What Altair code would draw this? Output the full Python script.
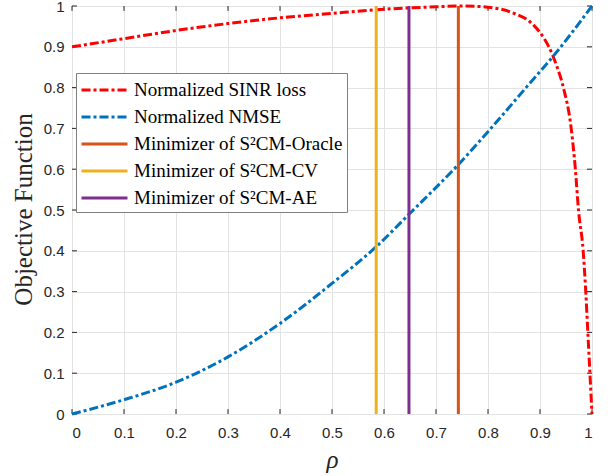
import altair as alt
import pandas as pd

# ---- data ----
rho_sinr = [0.0, 0.1, 0.2, 0.3, 0.4, 0.5, 0.6, 0.7, 0.75, 0.8, 0.85, 0.88, 0.9,
            0.917, 0.933, 0.945, 0.96, 0.968, 0.974, 0.983, 0.988, 0.992, 0.996, 1.0]
sinr_loss = [0.9, 0.92, 0.94, 0.957, 0.971, 0.982, 0.992, 0.998, 1.0, 0.997, 0.982,
             0.962, 0.935, 0.9, 0.85, 0.8, 0.7, 0.6, 0.5, 0.4, 0.3, 0.2, 0.1, 0.0]

rho_nmse = [0.0, 0.1, 0.2, 0.3, 0.4, 0.5, 0.585, 0.65, 0.742, 0.8, 0.88, 0.93, 1.0]
nmse = [0.0, 0.035, 0.078, 0.14, 0.222, 0.32, 0.41, 0.492, 0.61, 0.692, 0.81, 0.884, 1.0]

minimizer_names = ["Minimizer of S²CM-Oracle", "Minimizer of S²CM-CV", "Minimizer of S²CM-AE"]
minimizer_rho = [0.743, 0.585, 0.648]

curve_names = ["Normalized SINR loss", "Normalized NMSE"]
x_ticks = [0, 0.1, 0.2, 0.3, 0.4, 0.5, 0.6, 0.7, 0.8, 0.9, 1]
y_ticks = [0, 0.1, 0.2, 0.3, 0.4, 0.5, 0.6, 0.7, 0.8, 0.9, 1]

# ---- tables ----
curves = pd.concat([
    pd.DataFrame({"series": curve_names[0], "rho": rho_sinr, "value": sinr_loss}),
    pd.DataFrame({"series": curve_names[1], "rho": rho_nmse, "value": nmse}),
])
rules = pd.DataFrame({"series": minimizer_names, "rho": minimizer_rho})
xt = pd.DataFrame({"t": x_ticks})
yt = pd.DataFrame({"t": y_ticks})

names = curve_names + minimizer_names
colors = ["#FF0000", "#0072BD", "#D95319", "#EDB120", "#7E2F8E"]
dashes = [[9, 3, 3, 3], [9, 3, 3, 3], [1, 0], [1, 0], [1, 0]]

AX = "#262626"

xscale = alt.Scale(domain=[0, 1], nice=False, zero=False)
yscale = alt.Scale(domain=[0, 1], nice=False, zero=False)

xaxis = alt.Axis(values=x_ticks, format=".1~f", title="ρ", grid=True, ticks=False,
                 domain=False, labelPadding=11, titleFont="Liberation Serif",
                 titleFontSize=25, titleFontStyle="italic", titleFontWeight="normal",
                 titleY=53, titleBaseline="alphabetic", titleColor=AX)
yaxis = alt.Axis(values=y_ticks, format=".1~f", title="Objective Function", grid=True,
                 ticks=False, domain=False, labelPadding=8, titleFont="Liberation Serif",
                 titleFontSize=25, titleFontWeight="normal", titleX=-41, titleY=203,
                 titleAngle=-90, titleBaseline="alphabetic", titleAlign="center",
                 titleColor=AX)

legend = alt.Legend(title=None, orient="none", legendX=4, legendY=67)

color = alt.Color("series:N", scale=alt.Scale(domain=names, range=colors), legend=legend)
dash = alt.StrokeDash("series:N", scale=alt.Scale(domain=names, range=dashes), legend=legend)

lines = alt.Chart(curves).mark_line(strokeWidth=3, interpolate="monotone").encode(
    x=alt.X("rho:Q", scale=xscale, axis=xaxis),
    y=alt.Y("value:Q", scale=yscale, axis=yaxis),
    color=color, strokeDash=dash, order=alt.Order("rho:Q"),
)

vlines = alt.Chart(rules).mark_rule(strokeWidth=3).encode(
    x=alt.X("rho:Q", scale=xscale), color=color, strokeDash=dash,
)

tick_style = dict(color=AX, strokeWidth=1)
bottom_ticks = alt.Chart(xt).mark_rule(**tick_style).encode(
    x=alt.X("t:Q", scale=xscale), y=alt.datum(0), y2=alt.datum(0.012))
top_ticks = alt.Chart(xt).mark_rule(**tick_style).encode(
    x=alt.X("t:Q", scale=xscale), y=alt.datum(1), y2=alt.datum(0.988))
left_ticks = alt.Chart(yt).mark_rule(**tick_style).encode(
    y=alt.Y("t:Q", scale=yscale), x=alt.datum(0), x2=alt.datum(0.0096))
right_ticks = alt.Chart(yt).mark_rule(**tick_style).encode(
    y=alt.Y("t:Q", scale=yscale), x=alt.datum(1), x2=alt.datum(0.9904))

chart = alt.layer(
    bottom_ticks, top_ticks, left_ticks, right_ticks, lines, vlines
).properties(
    width=520, height=408,
    padding={"left": 72, "top": 6, "right": 16, "bottom": 62},
    autosize=alt.AutoSizeParams(type="none"),
    background="white",
).configure_view(
    stroke=AX, strokeWidth=1,
).configure_axis(
    labelFont="Liberation Sans", labelFontSize=15, labelColor=AX,
    gridColor="#e3e3e3", gridWidth=1,
).configure_legend(
    fillColor="white", strokeColor="#808080", strokeWidth=1, padding=4,
    labelFont="Liberation Serif", labelFontSize=19, labelColor="#000000",
    labelLimit=400, labelOffset=28, symbolType="M-1,0H3", symbolSize=529,
    symbolStrokeWidth=3, rowPadding=4, cornerRadius=0,
)

chart.save("out.html", embed_options={"renderer": "svg", "actions": False})
